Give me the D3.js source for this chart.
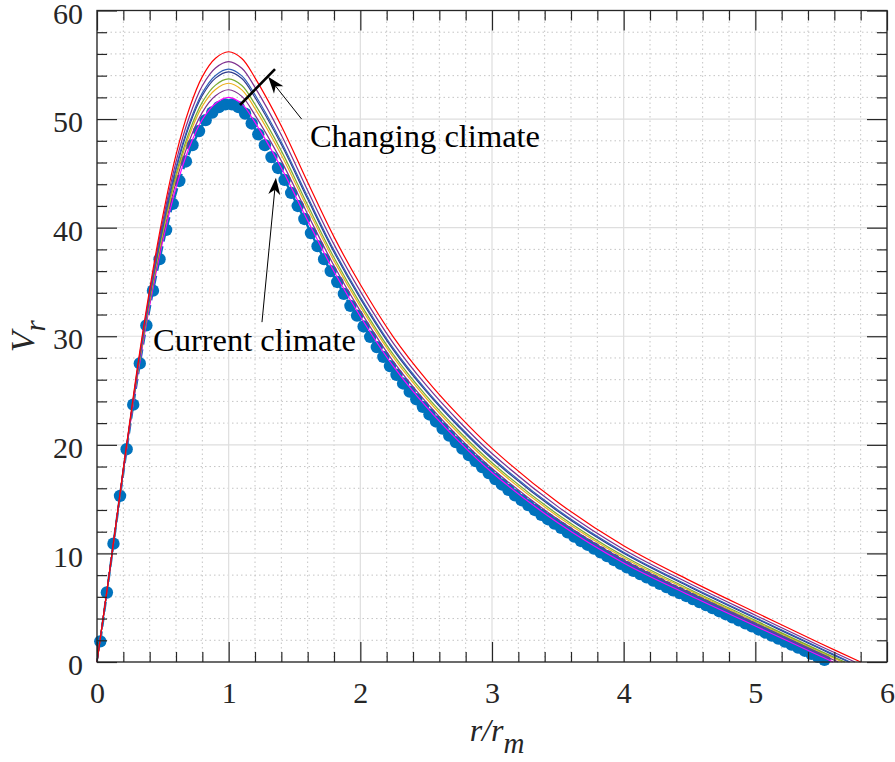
<!DOCTYPE html>
<html lang="en">
<head>
<meta charset="UTF-8">
<title>Vr profile</title>
<script src="https://cdn.jsdelivr.net/npm/d3@7/dist/d3.min.js"></script>
<style>
  body { margin: 0; background: #fff; }
  #chart { width: 895px; height: 762px; }
  text { font-family: "Liberation Serif", "Times New Roman", serif; }
</style>
</head>
<body>
<div id="chart"></div>
<script>
// current climate (blue markers + dashed line)
const rDots = [0.025,0.075,0.125,0.175,0.225,0.275,0.325,0.375,0.425,0.475,
  0.525,0.575,0.625,0.675,0.725,0.775,0.825,0.875,0.925,0.975,
  1.025,1.075,1.125,1.175,1.225,1.275,1.325,1.375,1.425,1.475,
  1.525,1.575,1.625,1.675,1.725,1.775,1.825,1.875,1.925,1.975,
  2.025,2.075,2.125,2.175,2.225,2.275,2.325,2.375,2.425,2.475,
  2.525,2.575,2.625,2.675,2.725,2.775,2.825,2.875,2.925,2.975,
  3.025,3.075,3.125,3.175,3.225,3.275,3.325,3.375,3.425,3.475,
  3.525,3.575,3.625,3.675,3.725,3.775,3.825,3.875,3.925,3.975,
  4.025,4.075,4.125,4.175,4.225,4.275,4.325,4.375,4.425,4.475,
  4.525,4.575,4.625,4.675,4.725,4.775,4.825,4.875,4.925,4.975,
  5.025,5.075,5.125,5.175,5.225,5.275,5.325,5.375,5.425,5.475,5.525];
const vDots = [1.9,6.4,10.9,15.3,19.6,23.7,27.5,31.0,34.2,37.1,
  39.8,42.2,44.3,46.1,47.6,48.9,49.9,50.6,51.1,51.35,
  51.35,51.1,50.5,49.6,48.6,47.6,46.5,45.5,44.4,43.2,
  42.0,40.8,39.5,38.3,37.1,36.0,35.0,33.9,32.8,31.9,
  30.9,29.95,29.0,28.1,27.25,26.45,25.65,24.9,24.2,23.5,
  22.8,22.15,21.5,20.85,20.25,19.65,19.05,18.5,17.95,17.4,
  16.85,16.35,15.85,15.35,14.9,14.45,14.0,13.55,13.15,12.75,
  12.35,11.95,11.55,11.15,10.8,10.45,10.1,9.75,9.4,9.05,
  8.72,8.4,8.1,7.8,7.5,7.2,6.9,6.6,6.35,6.08,
  5.8,5.52,5.24,4.96,4.68,4.4,4.12,3.84,3.56,3.28,
  3.0,2.72,2.44,2.16,1.88,1.6,1.32,1.04,0.76,0.48,0.2];

// changing climate curves, sampled at rLine, each ends at rEnd with V = 0
const rLine = [0,0.1,0.2,0.3,0.4,0.5,0.6,0.7,0.8,0.9,1.0,1.1,1.2,1.4,1.6,1.8,2.0,2.25,2.5,2.75,3.0,3.5,4.0,4.5,5.0,5.5];
const vRed     = [0,8.75,17.83,26.56,34.33,41.09,46.71,50.93,53.91,55.6,56.2,55.58,53.8,49.37,44.18,39.15,34.76,29.95,26.03,22.66,19.67,14.71,10.71,7.52,4.58,1.68];
const vPurple  = [0,8.73,17.76,26.38,34.0,40.6,46.06,50.17,53.07,54.71,55.3,54.68,52.92,48.54,43.43,38.46,34.13,29.37,25.49,22.15,19.2,14.31,10.37,7.23,4.31,1.43];
const vBlue    = [0,8.71,17.71,26.24,33.75,40.21,45.55,49.57,52.41,54.02,54.6,53.98,52.24,47.89,42.84,37.93,33.64,28.91,25.07,21.76,18.83,13.99,10.11,7.0,4.1,1.24];
const vNavy    = [0,8.71,17.69,26.19,33.66,40.07,45.37,49.36,52.17,53.77,54.35,53.74,51.99,47.66,42.63,37.74,33.47,28.75,24.92,21.62,18.69,13.88,10.01,6.91,4.03,1.17];
const vGreen   = [0,8.7,17.63,26.06,33.43,39.72,44.91,48.81,51.56,53.13,53.7,53.09,51.35,47.07,42.08,37.25,33.01,28.33,24.53,21.25,18.35,13.59,9.76,6.7,3.83,0.98];
const vYellow  = [0,8.69,17.6,25.98,33.28,39.5,44.62,48.47,51.19,52.73,53.3,52.69,50.96,46.7,41.75,36.94,32.73,28.08,24.29,21.02,18.14,13.41,9.61,6.57,3.71,0.87];
const vPurple2 = [0,8.68,17.55,25.86,33.07,39.17,44.19,47.96,50.62,52.14,52.7,52.09,50.37,46.15,41.24,36.49,32.31,27.69,23.93,20.68,17.82,13.14,9.38,6.37,3.53,0.70];
const vMagenta = [0,8.66,17.5,25.72,32.82,38.78,43.68,47.36,49.96,51.44,52.0,51.4,49.69,45.5,40.65,35.96,31.82,27.24,23.51,20.29,17.45,12.82,9.12,6.14,3.32,0.51];
const rEnd = [5.80,5.756,5.72,5.71,5.68,5.66,5.63,5.59];
const lineColors = ["#ff0000","#7e2f8e","#2f5fb8","#2e3a8c","#77ac30","#edb120","#7e2f8e","#ff00ff"];

const xTicks = [0,1,2,3,4,5,6];
const yTicks = [0,10,20,30,40,50,60];

const W = 895, H = 762;
const margin = {left: 97, right: 8, top: 10.5, bottom: 100};

const svg = d3.select("#chart").append("svg")
    .attr("width", W).attr("height", H)
    .attr("viewBox", [0, 0, W, H]);

const x = d3.scaleLinear().domain([0, 6]).range([margin.left, W - margin.right]);
const y = d3.scaleLinear().domain([0, 60]).range([H - margin.bottom, margin.top]);

const xMinor = d3.range(0, 6.001, 0.2).filter(v => Math.abs(v - Math.round(v)) > 1e-6);
const yMinor = d3.range(0, 60.001, 2).filter(v => v % 10 !== 0);

// grid
const grid = svg.append("g");
grid.selectAll("line.gxm").data(xMinor).join("line")
    .attr("x1", d => x(d)).attr("x2", d => x(d))
    .attr("y1", y(0)).attr("y2", y(60))
    .attr("stroke", "#c4c4c4").attr("stroke-width", 1).attr("stroke-dasharray", "1.5,3");
grid.selectAll("line.gym").data(yMinor).join("line")
    .attr("y1", d => y(d)).attr("y2", d => y(d))
    .attr("x1", x(0)).attr("x2", x(6))
    .attr("stroke", "#c4c4c4").attr("stroke-width", 1).attr("stroke-dasharray", "1.5,3");
grid.selectAll("line.gx").data(xTicks).join("line")
    .attr("x1", d => x(d)).attr("x2", d => x(d))
    .attr("y1", y(0)).attr("y2", y(60))
    .attr("stroke", "#dedede").attr("stroke-width", 1.2);
grid.selectAll("line.gy").data(yTicks).join("line")
    .attr("y1", d => y(d)).attr("y2", d => y(d))
    .attr("x1", x(0)).attr("x2", x(6))
    .attr("stroke", "#dedede").attr("stroke-width", 1.2);

// current climate
const dots = rDots.map((r, i) => [r, vDots[i]]);
svg.append("g").selectAll("circle").data(dots).join("circle")
    .attr("cx", d => x(d[0])).attr("cy", d => y(d[1]))
    .attr("r", 6.2).attr("fill", "#0072bd");

const line = d3.line().x(d => x(d[0])).y(d => y(d[1]));
svg.append("path").datum(dots)
    .attr("d", line)
    .attr("fill", "none").attr("stroke", "#0072bd")
    .attr("stroke-width", 2.4).attr("stroke-dasharray", "10,5");

// changing climate
const series = [vRed, vPurple, vBlue, vNavy, vGreen, vYellow, vPurple2, vMagenta];
const smooth = d3.line().x(d => x(d[0])).y(d => y(d[1])).curve(d3.curveCatmullRom.alpha(0.5));
svg.append("g").selectAll("path").data(series.map((vs, i) => ({
        pts: rLine.map((r, j) => [r, vs[j]]).concat([[rEnd[i], 0]]),
        color: lineColors[i]
    })).reverse())
    .join("path")
    .attr("d", d => smooth(d.pts))
    .attr("fill", "none").attr("stroke", d => d.color).attr("stroke-width", 1.2);

// axes (ticks inside, box)
const axisCol = "#262626";
const ax = svg.append("g").attr("class", "axes");
function styleAxis(g) {
    g.select(".domain").remove();
    g.selectAll("line").attr("stroke", axisCol).attr("stroke-width", 1.2);
    g.selectAll("text").attr("fill", axisCol).style("font-size", "30px")
        .style("font-family", "'Liberation Serif', 'Times New Roman', serif");
}
ax.append("g").attr("transform", `translate(0,${y(0)})`)
    .call(d3.axisBottom(x).tickValues(xTicks).tickFormat(d3.format("d")).tickSize(-20).tickPadding(20)).call(styleAxis);
ax.append("g").attr("transform", `translate(0,${y(0)})`)
    .call(d3.axisBottom(x).tickValues(xMinor).tickFormat("").tickSize(-10)).call(styleAxis);
ax.append("g").attr("transform", `translate(0,${y(60)})`)
    .call(d3.axisTop(x).tickValues(xTicks).tickFormat("").tickSize(-20)).call(styleAxis);
ax.append("g").attr("transform", `translate(0,${y(60)})`)
    .call(d3.axisTop(x).tickValues(xMinor).tickFormat("").tickSize(-10)).call(styleAxis);
ax.append("g").attr("transform", `translate(${x(0)},0)`)
    .call(d3.axisLeft(y).tickValues(yTicks).tickFormat(d3.format("d")).tickSize(-20).tickPadding(14)).call(styleAxis)
    .selectAll("text").attr("dy", "0.42em");
ax.append("g").attr("transform", `translate(${x(0)},0)`)
    .call(d3.axisLeft(y).tickValues(yMinor).tickFormat("").tickSize(-10)).call(styleAxis);
ax.append("g").attr("transform", `translate(${x(6)},0)`)
    .call(d3.axisRight(y).tickValues(yTicks).tickFormat("").tickSize(-20)).call(styleAxis);
ax.append("g").attr("transform", `translate(${x(6)},0)`)
    .call(d3.axisRight(y).tickValues(yMinor).tickFormat("").tickSize(-10)).call(styleAxis);
ax.append("rect")
    .attr("x", x(0)).attr("y", y(60))
    .attr("width", x(6) - x(0)).attr("height", y(0) - y(60))
    .attr("fill", "none").attr("stroke", axisCol).attr("stroke-width", 1.3);

// axis labels
svg.append("text")
    .attr("x", 497).attr("y", 741)
    .attr("text-anchor", "middle")
    .style("font-size", "32px").style("font-style", "italic").attr("fill", axisCol)
    .text("r/r")
    .append("tspan").attr("dy", 12).style("font-size", "29px").text("m");
svg.append("text")
    .attr("transform", `translate(34,${(y(0) + y(60)) / 2}) rotate(-90)`)
    .attr("text-anchor", "middle")
    .style("font-size", "34px").style("font-style", "italic").attr("fill", axisCol)
    .text("V")
    .append("tspan").attr("dy", 11).style("font-size", "29px").text("r");

// annotations
function arrow(x1, y1, x2, y2) {
    const p1 = [x(x1), y(y1)], p2 = [x(x2), y(y2)];
    const dx = p2[0] - p1[0], dy = p2[1] - p1[1];
    const len = Math.hypot(dx, dy), ux = dx / len, uy = dy / len;
    const L = 17, w = 6, notch = 5;
    const base = [p2[0] - ux * L, p2[1] - uy * L];
    svg.append("line")
        .attr("x1", p1[0]).attr("y1", p1[1])
        .attr("x2", p2[0] - ux * (L - notch)).attr("y2", p2[1] - uy * (L - notch))
        .attr("stroke", "#000").attr("stroke-width", 1);
    const head = [p2,
        [base[0] - uy * w, base[1] + ux * w],
        [p2[0] - ux * (L - notch), p2[1] - uy * (L - notch)],
        [base[0] + uy * w, base[1] - ux * w]];
    svg.append("path").attr("d", "M" + head.join("L") + "Z").attr("fill", "#000");
}
svg.append("line")
    .attr("x1", x(1.086)).attr("y1", y(51.3))
    .attr("x2", x(1.352)).attr("y2", y(54.6))
    .attr("stroke", "#000").attr("stroke-width", 2.6);
arrow(1.554, 50.0, 1.30, 53.9);
arrow(1.253, 31.3, 1.359, 44.6);

svg.append("text").attr("x", x(1.617)).attr("y", y(47.4))
    .style("font-size", "32.5px").attr("fill", "#000").text("Changing climate");
svg.append("text").attr("x", x(0.425)).attr("y", y(28.6))
    .style("font-size", "32.5px").attr("fill", "#000").text("Current climate");
</script>
</body>
</html>
